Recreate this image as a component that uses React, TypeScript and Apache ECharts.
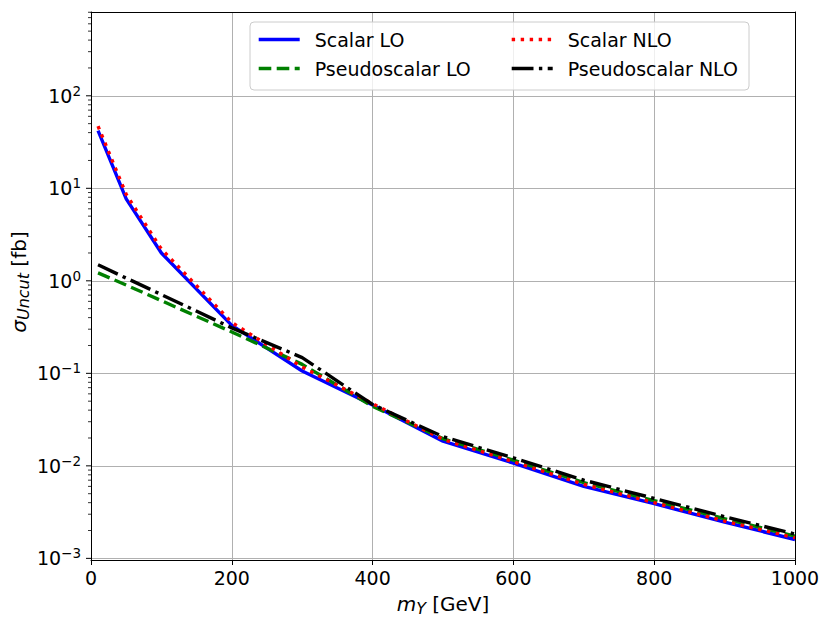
import React, { useEffect, useRef } from "react";
import * as echarts from "echarts";

const FONT = "'DejaVu Sans', sans-serif";

// Data
const massGeV = [10, 50, 100, 200, 300, 400, 500, 600, 700, 800, 900, 1000];
const scalarLO = [42, 7.7, 2.0, 0.33, 0.106, 0.0455, 0.0185, 0.0107, 0.006, 0.0039, 0.00246, 0.0016];
const scalarNLO = [47, 8.6, 2.2, 0.355, 0.117, 0.047, 0.0193, 0.0111, 0.0063, 0.004, 0.00253, 0.00167];
const pseudoLO = [1.22, 0.9, 0.61, 0.28, 0.125, 0.044, 0.0197, 0.0115, 0.0066, 0.0042, 0.00268, 0.00174];
const pseudoNLO = [1.49, 1.07, 0.71, 0.31, 0.148, 0.046, 0.0207, 0.0122, 0.007, 0.00445, 0.00282, 0.00183];

const xTicks = [0, 200, 400, 600, 800, 1000];
const decades = [-3, -2, -1, 0, 1, 2];
const minorMultipliers = [2, 3, 4, 5, 6, 7, 8, 9];

const Y_MIN = 0.00096;
const Y_MAX = 805;
const LW = 3.4;

export default function App() {
  const ref = useRef<HTMLDivElement>(null);
  useEffect(() => {
    document.body.style.margin = "0";
    const chart = echarts.init(ref.current!, null, { renderer: "svg" });

    const majorVals = decades.map((d) => Math.pow(10, d));
    const minorVals: number[] = [];
    decades.forEach((d) =>
      minorMultipliers.forEach((m) => {
        const v = m * Math.pow(10, d);
        if (v > Y_MIN && v < Y_MAX) minorVals.push(v);
      })
    );
    const tickData = [
      ...majorVals.map((v) => [xTicks[0], v, 1]),
      ...minorVals.map((v) => [xTicks[0], v, 0]),
    ];

    const mk = (name: string, vals: number[], color: string, dash: any) => ({
      type: "line",
      name,
      data: massGeV.map((m, i) => [m, vals[i]]),
      symbol: "none",
      showSymbol: false,
      lineStyle: { color, width: LW, type: dash },
      itemStyle: { color },
      z: 3,
      silent: true,
      emphasis: { disabled: true },
    });

    const textStyle = { fontFamily: FONT, fontSize: 19, color: "#000" };

    const legendBase = {
      orient: "vertical",
      top: 30,
      itemWidth: 41,
      itemHeight: 20,
      itemGap: 10,
      padding: 0,
      selectedMode: false,
      z: 10,
      itemStyle: { opacity: 0 },
      lineStyle: { width: LW },
      textStyle: { ...textStyle, padding: [0, 0, 0, 10] },
    };

    const labelRich = {
      i: { fontFamily: FONT, fontSize: 20, fontStyle: "italic", lineHeight: 24, fill: "#000" },
      sub: {
        fontFamily: FONT,
        fontSize: 16,
        fontStyle: "italic",
        lineHeight: 16,
        verticalAlign: "bottom",
        fill: "#000",
      },
      n: { fontFamily: FONT, fontSize: 20, lineHeight: 24, fill: "#000" },
    };

    const option: any = {
      animation: false,
      grid: { left: 91, right: 35, top: 12, bottom: 62, containLabel: false },
      xAxis: [
        {
          type: "value",
          min: 0,
          max: 1000,
          interval: 200,
          axisLine: { show: true, lineStyle: { color: "#000", width: 1 } },
          axisTick: { show: true, length: 5, lineStyle: { color: "#000", width: 1 } },
          axisLabel: { ...textStyle, margin: 8, formatter: (v: number) => String(v) },
          splitLine: { show: true, lineStyle: { color: "#b0b0b0", width: 1 } },
        },
        {
          type: "value",
          position: "top",
          min: 0,
          max: 1000,
          z: 5,
          axisLine: { show: true, onZero: false, lineStyle: { color: "#000", width: 1 } },
          axisTick: { show: false },
          axisLabel: { show: false },
          splitLine: { show: false },
        },
      ],
      yAxis: [
        {
          type: "log",
          logBase: 10,
          min: Y_MIN,
          max: Y_MAX,
          axisLine: { show: true, onZero: false, lineStyle: { color: "#000", width: 1 } },
          axisTick: { show: false },
          minorTick: { show: false },
          axisLabel: {
            margin: 10,
            color: "#000",
            showMinLabel: false,
            showMaxLabel: false,
            formatter: (val: number) => {
              const l = Math.log10(val);
              const e = Math.round(l);
              if (Math.abs(l - e) > 1e-6) return "";
              const es = e < 0 ? "\u2212" + -e : String(e);
              return `{b|10}{s|${es}}`;
            },
            rich: {
              b: { fontFamily: FONT, fontSize: 19, lineHeight: 24, color: "#000" },
              s: {
                fontFamily: FONT,
                fontSize: 13.5,
                lineHeight: 14,
                verticalAlign: "top",
                color: "#000",
              },
            },
          },
          splitLine: { show: true, lineStyle: { color: "#b0b0b0", width: 1 } },
        },
        {
          type: "log",
          logBase: 10,
          position: "right",
          min: Y_MIN,
          max: Y_MAX,
          z: 5,
          axisLine: { show: true, onZero: false, lineStyle: { color: "#000", width: 1 } },
          axisTick: { show: false },
          axisLabel: { show: false },
          splitLine: { show: false },
        },
      ],
      legend: [
        { ...legendBase, data: ["Scalar LO", "Pseudoscalar LO"], left: 257 },
        { ...legendBase, data: ["Scalar NLO", "Pseudoscalar NLO"], left: 510 },
      ],
      graphic: [
        {
          type: "rect",
          z: 9,
          shape: { x: 250, y: 22, width: 499, height: 68, r: 4 },
          style: { fill: "rgba(255,255,255,0.8)", stroke: "#cccccc", lineWidth: 1 },
        },
        {
          type: "text",
          x: 443,
          y: 604,
          style: {
            text: "{i|m}{sub|Y}{n| [GeV]}",
            align: "center",
            verticalAlign: "middle",
            rich: labelRich,
          },
        },
        {
          type: "text",
          x: 19,
          y: 282,
          rotation: Math.PI / 2,
          style: {
            text: "{i|\u03c3}{sub|Uncut}{n| [fb]}",
            align: "center",
            verticalAlign: "middle",
            rich: labelRich,
          },
        },
      ],
      series: [
        mk("Scalar LO", scalarLO, "#0000ff", "solid"),
        mk("Pseudoscalar LO", pseudoLO, "#008000", [12.6, 5.4]),
        mk("Scalar NLO", scalarNLO, "#ff0000", [3.4, 5.6]),
        mk("Pseudoscalar NLO", pseudoNLO, "#000000", [21.8, 5.4, 3.4, 5.4]),
        {
          type: "custom",
          name: "yticks",
          silent: true,
          clip: false,
          z: 6,
          data: tickData,
          renderItem: (params: any, api: any) => {
            const p = api.coord([api.value(0), api.value(1)]);
            const major = api.value(2) === 1;
            const len = major ? 5 : 3;
            return {
              type: "line",
              shape: { x1: p[0] - len, y1: p[1], x2: p[0], y2: p[1] },
              style: { stroke: "#000", lineWidth: major ? 1 : 0.8 },
            };
          },
        },
      ],
    };

    chart.setOption(option);
    return () => chart.dispose();
  }, []);
  return <div ref={ref} style={{ width: 830, height: 622 }} />;
}
